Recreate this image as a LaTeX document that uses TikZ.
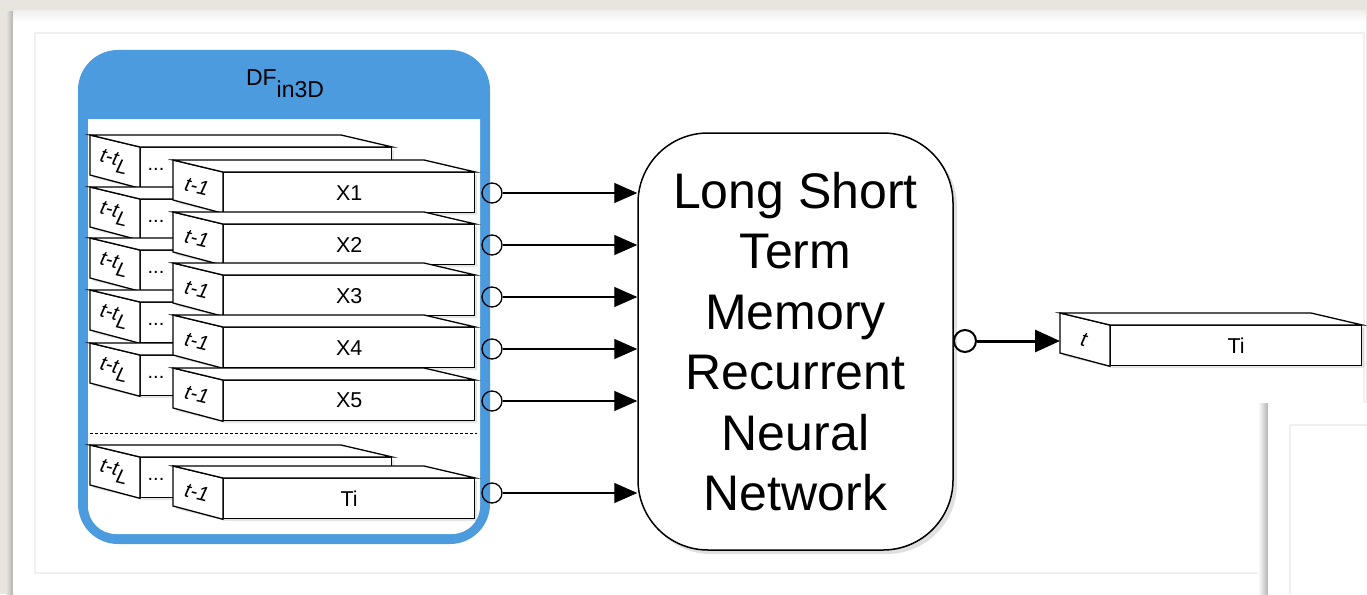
\documentclass[tikz,border=0pt]{standalone}
\usepackage{fontspec}
\setmainfont{Liberation Sans}
\usetikzlibrary{arrows.meta,calc}

\definecolor{desk}{HTML}{E8E5DF}
\definecolor{framegray}{HTML}{F0F0F0}
\definecolor{panelblue}{HTML}{4B9BDE}

% a bar drawn as a cuboid: front face node plus end face and top face
% #1 name, #2 x, #3 y (top-left of front face), #4 end-face text, #5 front text
\newcommand\cuboid[5]{%
  \fill[black,opacity=.10] ($(#2,#3)+(-47,-9)$) -- ++(251,0) -- ++(50,12) -- ++(0,40)
       -- ++(-251,0) -- ++(-50,-12) -- cycle;
  \node[frontface] (#1) at (#2,#3) {#5};
  \draw[face] (#1.north west) -- ++(-50,-12) -- ++(0,40) -- (#1.south west) -- cycle;
  \draw[face] (#1.north west) -- ++(-50,-12) -- ++(251,0) -- (#1.north east) -- cycle;
  \node[endlabel] (#1-end) at ($(#1.west)+(-26,-6)$) {#4};
}

\begin{document}
\begin{tikzpicture}[x=1pt,y=-1pt,
  face/.style={draw=black, fill=white, line width=1.3pt, line join=miter},
  frontface/.style={face, minimum width=251pt, minimum height=40pt, inner sep=0pt,
    anchor=north west, font=\fontsize{21.5}{24}\selectfont},
  endlabel/.style={font=\fontsize{20.5}{24}\selectfont\itshape, rotate=-13.5, inner sep=0pt},
  dots/.style={font=\fontsize{20}{22}\selectfont, inner sep=0pt},
  port/.style={circle, draw=black, line width=1.3pt, minimum size=20pt, inner sep=0pt},
  feed/.style={line width=1.3pt, -{Triangle[length=23pt,width=20pt]}},
  result/.style={line width=3pt, -{Triangle[length=25pt,width=22pt]}},
]
\useasboundingbox (0,0) rectangle (1367,594);

% desk and sheets
\fill[desk] (0,0) rectangle (1367,594);
\fill[left color=desk, right color=black!30] (6,12) rectangle (13,594);
\fill[white] (13,11) rectangle (1366,594);
\fill[top color=black!6, bottom color=white] (13,11) rectangle (1366,22);
\draw[framegray, line width=1.5pt] (35,33) rectangle (1364,573);
\fill[left color=white, right color=black!30] (1258,403) rectangle (1268,594);
\fill[white] (1268,403) rectangle (1367,594);
\draw[framegray, line width=1.5pt] (1290,425) -- (1290,594);
\draw[framegray, line width=1.5pt] (1290,425) -- (1367,425);

% input panel
\fill[panelblue, rounded corners=40pt] (78,50) rectangle (490,544);
\fill[white] (88,119) -- (480,119) [rounded corners=28pt] -- (480,534) -- (88,534) [sharp corners] -- (88,119) -- cycle;
\node[font=\fontsize{23}{26}\selectfont, inner sep=0pt] (title) at (285,84)
  {DF\raisebox{-12pt}{in3D}};

% back bars (oldest steps)
\foreach \n/\y in {1/147,2/199,3/250,4/302,5/355,T/457}{
  \cuboid{b\n}{140}{\y}{t-t\raisebox{-7pt}{\fontsize{20}{22}\selectfont L}}{}
  \node[dots] (b\n-dots) at ($(b\n.north west)+(16,22)$) {...};
}
% front bars (step t-1)
\foreach \n/\y/\lab in {1/172/X1,2/224/X2,3/275/X3,4/327/X4,5/380/X5,T/478/Ti}{
  \cuboid{f\n}{223}{\y}{t-1}{\lab}
}

% separator before the target series
\draw[line width=1pt, dash pattern=on 3pt off 2pt] (90,433) -- (477,433);

% network
\fill[black,opacity=.12, rounded corners=70pt] (641,137) rectangle (957,554);
\node[draw=black, fill=white, line width=1.5pt, rounded corners=70pt,
  minimum width=315pt, minimum height=417pt, inner sep=0pt,
  align=center, font=\fontsize{50}{60.5}\selectfont] (lstm) at (795.5,341.5)
  {Long Short\\Term\\Memory\\Recurrent\\Neural\\Network};

% input ports and connectors
\foreach \n/\y in {1/193,2/245,3/297,4/349,5/401,T/493}{
  \node[port] (p\n) at (492,\y) {};
  \draw[feed] (p\n) -- (p\n -| lstm.west);
}

% output bar
\cuboid{out}{1110}{325}{t}{Ti}
\coordinate (outend) at ($(out.west)+(-50,0)$);
\node[port, line width=2pt, minimum size=22pt] (po) at (965,341) {};
\draw[result] (po) -- (po -| outend);
\end{tikzpicture}
\end{document}
